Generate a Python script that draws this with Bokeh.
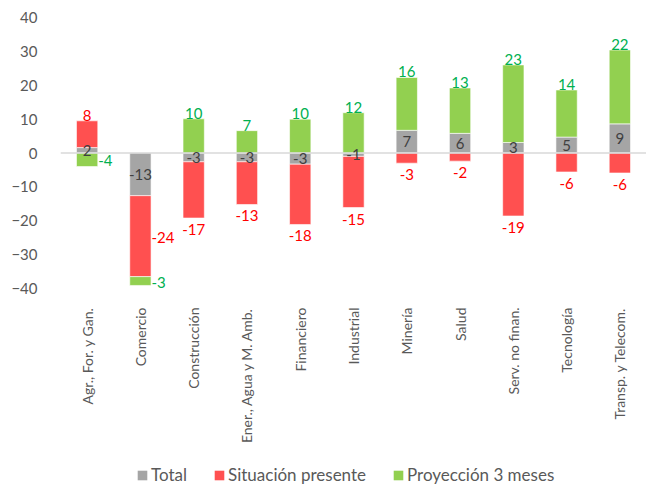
import numpy as np
from bokeh.plotting import figure
from bokeh.layouts import column
from bokeh.models import (ColumnDataSource, FactorRange, Range1d, Span, Legend,
                          LegendItem, FixedTicker)
from bokeh.core.properties import value
from bokeh.embed import file_html
from bokeh.resources import INLINE

categories = ["Agr., For. y Gan.", "Comercio", "Construcción", "Ener., Agua y M. Amb.",
              "Financiero", "Industrial", "Minería", "Salud", "Serv. no finan.",
              "Tecnología", "Transp. y Telecom."]
total = [1.6, -12.6, -2.6, -2.6, -3.3, -1.0, 6.7, 5.8, 3.1, 4.7, 8.6]
situacion = [7.9, -23.9, -16.6, -12.6, -17.8, -15.1, -3.0, -2.4, -18.6, -5.6, -5.9]
proyeccion = [-4.0, -2.6, 10.1, 6.6, 10.0, 11.9, 15.6, 13.4, 22.9, 13.9, 21.8]
series_names = ["Total", "Situación presente", "Proyección 3 meses"]
y_ticks = [-40, -30, -20, -10, 0, 10, 20, 30, 40]

FONT = "Lato"
bar_colors = ["#a5a5a5", "#ff5050", "#92d050"]
label_colors = ["#404040", "#ff0000", "#00b050"]
# labels placed beside the bar instead of at its end
side_labels = {(1, "Comercio"), (2, "Comercio"), (2, "Agr., For. y Gan.")}

BAR_W = 0.4

p = figure(x_range=FactorRange(*categories, range_padding=0),
           y_range=Range1d(-40, 40), width=646, height=456,
           output_backend="svg", toolbar_location=None,
           min_border_left=60, min_border_right=0, min_border_top=17,
           min_border_bottom=168)
p.outline_line_color = None
p.xgrid.visible = False
p.ygrid.visible = False


def rnd(v):
    return int(np.sign(v) * np.floor(abs(v) + 0.5))


pos = np.zeros(len(categories))
neg = np.zeros(len(categories))
label_sources = []
for si, vals in enumerate([total, situacion, proyeccion]):
    vals = np.array(vals, dtype=float)
    bottoms, tops = [], []
    lx, ly, lt, la, lb, lxo, lyo = [], [], [], [], [], [], []
    for i, v in enumerate(vals):
        if v >= 0:
            b, t = pos[i], pos[i] + v
            pos[i] = t
        else:
            b, t = neg[i], neg[i] + v
            neg[i] = t
        bottoms.append(b)
        tops.append(t)
        cat = categories[i]
        lx.append(cat)
        lt.append(str(rnd(v)))
        if si == 0:
            ly.append((b + t) / 2); la.append("center"); lb.append("middle")
            lxo.append(0); lyo.append(0)
        elif (si, cat) in side_labels:
            ly.append((b + t) / 2); la.append("left"); lb.append("middle")
            lxo.append(11); lyo.append(1)
        elif v >= 0:
            ly.append(t); la.append("center"); lb.append("bottom")
            lxo.append(0); lyo.append(0)
        else:
            ly.append(t); la.append("center"); lb.append("top")
            lxo.append(0); lyo.append(6)
    src = ColumnDataSource(dict(x=categories, bottom=bottoms, top=tops))
    p.vbar(x="x", bottom="bottom", top="top", width=BAR_W, source=src,
           fill_color=bar_colors[si], line_color="white", line_width=0.6)
    label_sources.append(ColumnDataSource(dict(x=lx, y=ly, text=lt, align=la,
                                               base=lb, xo=lxo, yo=lyo)))

p.add_layout(Span(location=0, dimension="width", line_color="#d9d9d9",
                  line_width=1.5))

for si, lsrc in enumerate(label_sources):
    p.text(x="x", y="y", text="text", source=lsrc, text_align="align",
           text_baseline="base", x_offset="xo", y_offset="yo",
           text_color=label_colors[si], text_font=value(FONT),
           text_font_size="15px", level="overlay")

p.yaxis.ticker = FixedTicker(ticks=y_ticks)
p.yaxis.axis_line_color = None
p.yaxis.major_tick_line_color = None
p.yaxis.minor_tick_line_color = None
p.yaxis.major_label_standoff = 17
p.yaxis.major_label_text_font = FONT
p.yaxis.major_label_text_font_size = "15px"
p.yaxis.major_label_text_color = "#595959"

p.xaxis.axis_line_color = None
p.xaxis.major_tick_line_color = None
p.xaxis.major_label_orientation = np.pi / 2
p.xaxis.major_label_standoff = 13
p.xaxis.major_label_text_font = FONT
p.xaxis.major_label_text_font_size = "14px"
p.xaxis.major_label_text_color = "#595959"

# legend strip below the chart (its frame is aligned with the chart's frame)
lg = figure(width=646, height=30, output_backend="svg", toolbar_location=None,
            min_border=0, x_range=Range1d(0, 1), y_range=Range1d(0, 1))
lg.axis.visible = False
lg.grid.visible = False
lg.outline_line_color = None
items = []
for n, c in zip(series_names, bar_colors):
    # swatch-only renderer: one empty (NaN) row so the legend can draw its glyph
    r = lg.quad(left=[np.nan], right=[np.nan], top=[np.nan], bottom=[np.nan],
                fill_color=c, line_color=None)
    items.append(LegendItem(label=n, renderers=[r]))
legend = Legend(items=items, orientation="horizontal", location=(76, 1),
                label_text_font=FONT, label_text_font_size="17px",
                label_text_color="#595959", glyph_width=12, glyph_height=12,
                spacing=26, label_standoff=3, border_line_color=None,
                background_fill_alpha=0, padding=0, margin=0)
lg.add_layout(legend)

open("out.html", "w").write(file_html(column(p, lg, spacing=0), INLINE))
